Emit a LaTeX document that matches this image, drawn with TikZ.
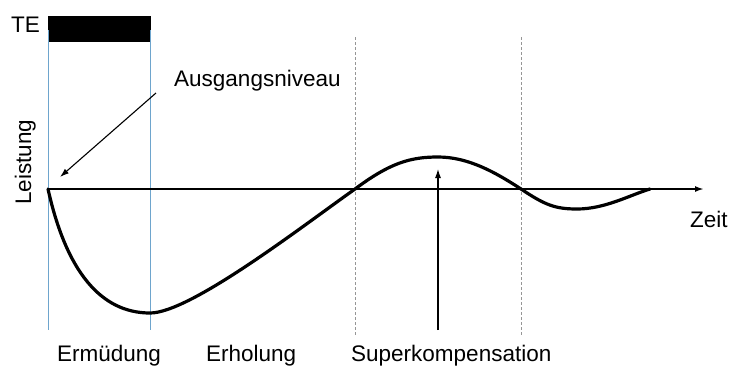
\documentclass[tikz,border=0pt]{standalone}
\usepackage{fontspec}
\setmainfont{Liberation Sans}
\usetikzlibrary{arrows.meta}
\definecolor{guideblue}{RGB}{110,165,205}
\definecolor{guidegray}{RGB}{150,150,150}
\tikzset{
  lbl/.style={inner sep=0pt, font=\fontsize{22.5}{27}\selectfont},
  axisline/.style={line width=2pt, -{Latex[length=9pt,width=6pt]}},
  curveline/.style={line width=3.2pt, line cap=round, line join=round},
  pointer/.style={line width=1.1pt, -{Latex[length=9pt,width=6pt]}},
  blueguide/.style={draw=guideblue, line width=0.7pt},
  grayguide/.style={draw=guidegray, line width=0.7pt, dash pattern=on 3pt off 2pt},
}
\begin{document}
\begin{tikzpicture}[x=1pt,y=-1pt]
\useasboundingbox (0,0) rectangle (730,365);
% TE bar
\fill[black] (48,16) rectangle (151,42);
\node[lbl, anchor=base west] (te) at (11,32) {TE};
% guide lines
\coordinate (b1t) at (48,30); \coordinate (b1b) at (48,330);
\coordinate (b2t) at (150,30); \coordinate (b2b) at (150,330);
\coordinate (g1t) at (355,37); \coordinate (g1b) at (355,335);
\coordinate (g2t) at (521,37); \coordinate (g2b) at (521,335);
\draw[blueguide] (b1t) -- (b1b);
\draw[blueguide] (b2t) -- (b2b);
\draw[grayguide] (g1t) -- (g1b);
\draw[grayguide] (g2t) -- (g2b);
% axis
\coordinate (o) at (48,189);
\coordinate (xend) at (704,189);
\draw[axisline] (o) -- (xend);
% curve
\draw[curveline] (o) .. controls (66,270) and (100,313) .. (150,313)
  .. controls (190,313) and (300,228) .. (355,189)
  .. controls (390,163) and (410,157) .. (438,157)
  .. controls (468,157) and (495,172) .. (521,189)
  .. controls (545,205) and (555,209) .. (577,209)
  .. controls (605,209) and (630,195) .. (650,189);
% labels
\node[lbl, anchor=base west] (ausgang) at (174,86) {Ausgangsniveau};
\node[lbl, anchor=base, rotate=90] (leistung) at (31,162) {Leistung};
\node[lbl, anchor=base west] (zeit) at (690,227) {Zeit};
\node[lbl, anchor=base west] (ermuedung) at (57,361) {Ermüdung};
\node[lbl, anchor=base west] (erholung) at (206,361) {Erholung};
\node[lbl, anchor=base west] (superk) at (351,361) {Superkompensation};
% pointers
\coordinate (a1s) at (156,93); \coordinate (a1e) at (60,177);
\draw[pointer] (a1s) -- (a1e);
\coordinate (a2s) at (438,330); \coordinate (a2e) at (438,169);
\draw[pointer] (a2s) -- (a2e);
\end{tikzpicture}
\end{document}
